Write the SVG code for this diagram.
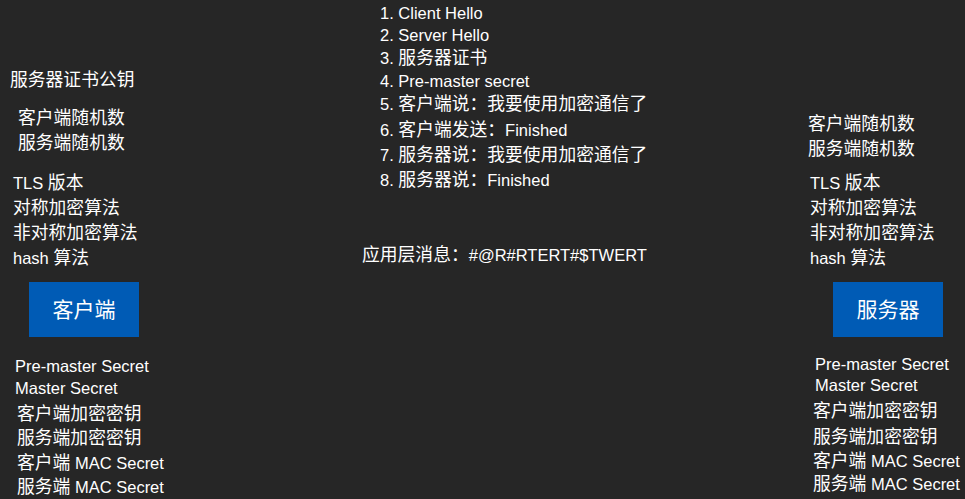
<svg xmlns="http://www.w3.org/2000/svg" width="965" height="499" viewBox="0 0 965 499">
<style>
text{font-family:"Liberation Sans","Noto Sans CJK SC",sans-serif;fill:#ffffff;font-size:16.5px}
.c{font-size:17.8px}
.box{fill:#005bb5}
.bl{font-size:21px;text-anchor:middle}
</style>
<rect width="965" height="499" fill="#262626"/>
<g id="left-info">
<text x="10" y="86" class="c">服务器证书公钥</text>
<text x="18" y="124" class="c">客户端随机数</text>
<text x="18" y="149" class="c">服务端随机数</text>
<text x="13" y="189">TLS <tspan class="c">版本</tspan></text>
<text x="13" y="214" class="c">对称加密算法</text>
<text x="13" y="239" class="c">非对称加密算法</text>
<text x="13" y="264">hash <tspan class="c">算法</tspan></text>
</g>
<g id="client">
<rect class="box" x="29" y="282" width="110" height="55"/>
<text class="bl" x="84" y="317">客户端</text>
</g>
<g id="left-keys">
<text x="15" y="372">Pre-master Secret</text>
<text x="15" y="394">Master Secret</text>
<text x="17" y="420" class="c">客户端加密密钥</text>
<text x="17" y="444" class="c">服务端加密密钥</text>
<text x="17" y="469"><tspan class="c">客户端</tspan> MAC Secret</text>
<text x="17" y="493"><tspan class="c">服务端</tspan> MAC Secret</text>
</g>
<g id="steps">
<text x="380" y="19">1. Client Hello</text>
<text x="380" y="41">2. Server Hello</text>
<text x="380" y="64">3. <tspan class="c">服务器证书</tspan></text>
<text x="380" y="87">4. Pre-master secret</text>
<text x="380" y="110">5. <tspan class="c">客户端说：我要使用加密通信了</tspan></text>
<text x="380" y="136">6. <tspan class="c">客户端发送：</tspan>Finished</text>
<text x="380" y="161">7. <tspan class="c">服务器说：我要使用加密通信了</tspan></text>
<text x="380" y="186">8. <tspan class="c">服务器说：</tspan>Finished</text>
<text x="362" y="261"><tspan class="c">应用层消息：</tspan>#@R#RTERT#$TWERT</text>
</g>
<g id="right-info">
<text x="808" y="130" class="c">客户端随机数</text>
<text x="808" y="155" class="c">服务端随机数</text>
<text x="810" y="189">TLS <tspan class="c">版本</tspan></text>
<text x="810" y="214" class="c">对称加密算法</text>
<text x="810" y="239" class="c">非对称加密算法</text>
<text x="810" y="264">hash <tspan class="c">算法</tspan></text>
</g>
<g id="server">
<rect class="box" x="833" y="282" width="110" height="55"/>
<text class="bl" x="888" y="317">服务器</text>
</g>
<g id="right-keys">
<text x="815" y="370">Pre-master Secret</text>
<text x="815" y="391">Master Secret</text>
<text x="813" y="417" class="c">客户端加密密钥</text>
<text x="813" y="443" class="c">服务端加密密钥</text>
<text x="813" y="467"><tspan class="c">客户端</tspan> MAC Secret</text>
<text x="813" y="490"><tspan class="c">服务端</tspan> MAC Secret</text>
</g>
<g id="connectors"></g>
</svg>
